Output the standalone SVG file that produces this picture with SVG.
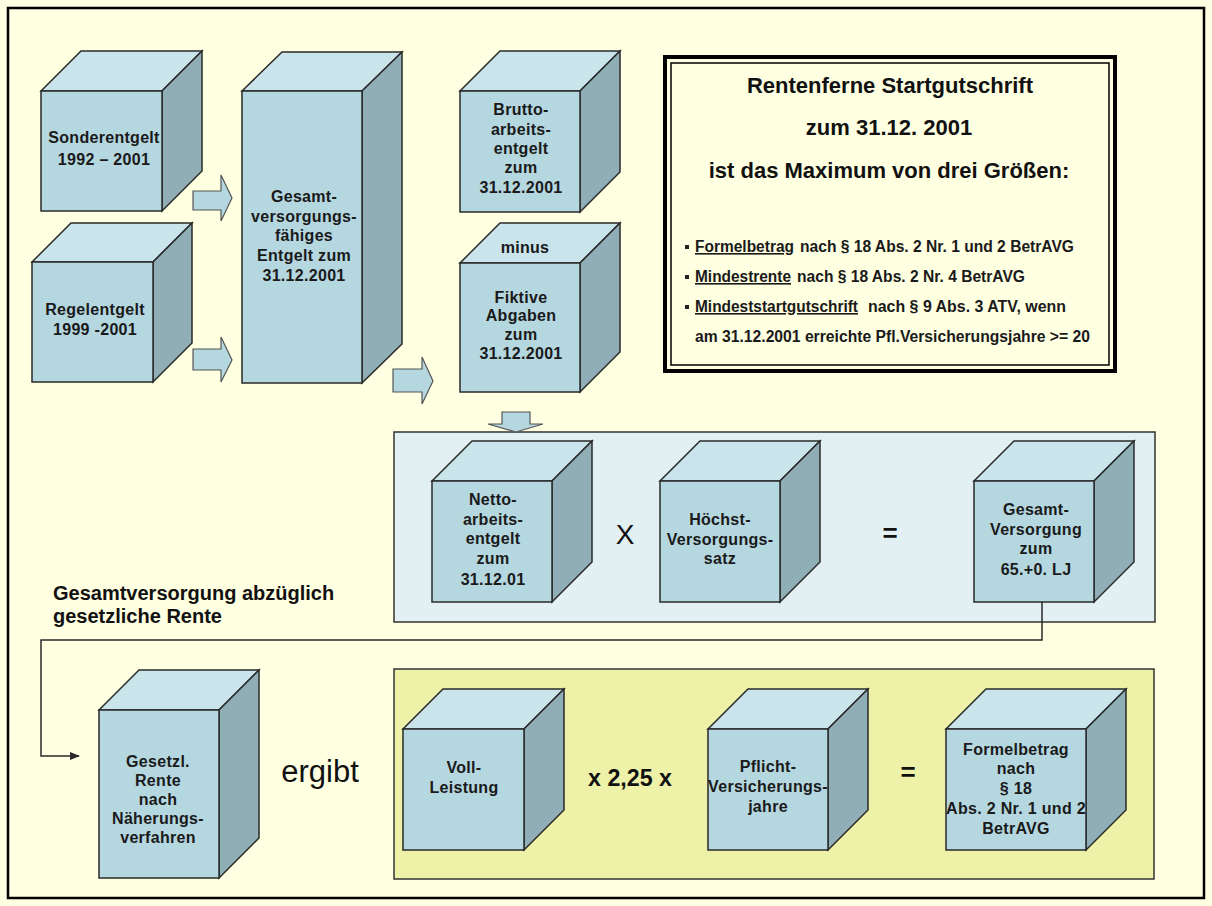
<svg xmlns="http://www.w3.org/2000/svg" width="1212" height="906" viewBox="0 0 1212 906">
<style>
.bg{fill:#FFFFE1}
.front{fill:#B5D7E0;stroke:#2a2a2a;stroke-width:1.5}
.top{fill:#C9E4EB;stroke:#2a2a2a;stroke-width:1.5}
.side{fill:#8FAEB5;stroke:#2a2a2a;stroke-width:1.5}
.barrow{fill:#B5D7E0;stroke:#555;stroke-width:1.2}
.t{font-family:"Liberation Sans",Arial,sans-serif;font-weight:bold;font-size:16px;letter-spacing:0.3px;fill:#1a1a1a;text-anchor:middle}
.tt{font-family:"Liberation Sans",Arial,sans-serif;font-weight:bold;font-size:22px;fill:#111;text-anchor:middle}
.bl{font-family:"Liberation Sans",Arial,sans-serif;font-weight:bold;font-size:16px;fill:#1a1a1a}
.op{font-family:"Liberation Sans",Arial,sans-serif;fill:#111;text-anchor:middle}
.lbl{font-family:"Liberation Sans",Arial,sans-serif;font-weight:bold;font-size:20px;fill:#111;text-anchor:start}
.conn{fill:none;stroke:#2a2a2a;stroke-width:1.5}
</style>
<defs>
<marker id="ah" markerWidth="10" markerHeight="8" refX="9" refY="4" orient="auto" markerUnits="userSpaceOnUse">
<path d="M0,0 L10,4 L0,8 z" fill="#2a2a2a"/>
</marker>
</defs>
<rect class="bg" x="0" y="0" width="1212" height="906"/>
<rect x="8" y="8" width="1196" height="890" fill="none" stroke="#000" stroke-width="2.5"/>

<!-- panels -->
<rect id="panel-mid" x="394" y="432" width="761" height="190" fill="#E2F0F3" stroke="#333" stroke-width="1.5"/>
<rect id="panel-bottom" x="394" y="669" width="760" height="210" fill="#EEF1A8" stroke="#333" stroke-width="1.5"/>

<!-- title box -->
<g id="title-box">
<rect x="665" y="57" width="450" height="314" fill="#FFFFE1" stroke="#000" stroke-width="4"/>
<rect x="671" y="63" width="438" height="302" fill="none" stroke="#000" stroke-width="1.5"/>
<text class="tt" x="890" y="93">Rentenferne Startgutschrift</text>
<text class="tt" x="889" y="135">zum 31.12. 2001</text>
<text class="tt" x="889" y="178">ist das Maximum von drei Größen:</text>
<rect x="685" y="245" width="4" height="4" fill="#222"/>
<text class="bl" y="252"><tspan x="695" text-decoration="underline" textLength="99" lengthAdjust="spacingAndGlyphs">Formelbetrag</tspan><tspan x="800" textLength="274" lengthAdjust="spacingAndGlyphs">nach § 18 Abs. 2 Nr. 1 und 2 BetrAVG</tspan></text>
<rect x="685" y="275" width="4" height="4" fill="#222"/>
<text class="bl" y="282"><tspan x="695" text-decoration="underline" textLength="96" lengthAdjust="spacingAndGlyphs">Mindestrente</tspan><tspan x="797" textLength="228" lengthAdjust="spacingAndGlyphs">nach § 18 Abs. 2 Nr. 4 BetrAVG</tspan></text>
<rect x="685" y="305" width="4" height="4" fill="#222"/>
<text class="bl" y="312"><tspan x="695" text-decoration="underline" textLength="163" lengthAdjust="spacingAndGlyphs">Mindeststartgutschrift</tspan><tspan x="868" textLength="198" lengthAdjust="spacingAndGlyphs">nach § 9 Abs. 3 ATV, wenn</tspan></text>
<text class="bl" x="695" y="342" textLength="395" lengthAdjust="spacingAndGlyphs">am 31.12.2001 erreichte Pfl.Versicherungsjahre  &gt;= 20</text>
</g>

<!-- connectors -->
<g id="connectors">
<path class="barrow" d="M193,191 L221,191 L221,175 L232,198 L221,221 L221,210 L193,210 z"/>
<path class="barrow" d="M193,349 L221,349 L221,337 L232,360 L221,382 L221,370 L193,370 z"/>
<path class="barrow" d="M393,369 L422,369 L422,357 L433,381 L422,404 L422,392 L393,392 z"/>
<path class="barrow" d="M502,412 L530,412 L530,424 L543,424 L516,432 L488,424 L502,424 z"/>
<path class="conn" d="M1042,602 L1042,640 L41,640 L41,756 L79,756" marker-end="url(#ah)"/>
</g>

<!-- cubes -->
<g id="sonderentgelt">
<path class="top" d="M41,91 L81,51 L202,51 L162,91 z"/>
<path class="side" d="M162,91 L202,51 L202,171 L162,211 z"/>
<rect class="front" x="41" y="91" width="121" height="120"/>
<text class="t" x="104" y="143">Sonderentgelt</text>
<text class="t" x="104" y="165">1992 – 2001</text>
</g>

<g id="regelentgelt">
<path class="top" d="M32,262 L71,223 L192,223 L153,262 z"/>
<path class="side" d="M153,262 L192,223 L192,343 L153,382 z"/>
<rect class="front" x="32" y="262" width="121" height="120"/>
<text class="t" x="95" y="315">Regelentgelt</text>
<text class="t" x="95" y="335">1999 -2001</text>
</g>

<g id="gesamtversorgungsfaehig">
<path class="top" d="M242,91 L282,52 L402,52 L362,91 z"/>
<path class="side" d="M362,91 L402,52 L402,344 L362,383 z"/>
<rect class="front" x="242" y="91" width="120" height="292"/>
<text class="t" x="304" y="202">Gesamt-</text>
<text class="t" x="304" y="222">versorgungs-</text>
<text class="t" x="304" y="241">fähiges</text>
<text class="t" x="304" y="261">Entgelt zum</text>
<text class="t" x="304" y="281">31.12.2001</text>
</g>

<g id="brutto">
<path class="top" d="M460,91 L500,51 L620,51 L580,91 z"/>
<path class="side" d="M580,91 L620,51 L620,172 L580,212 z"/>
<rect class="front" x="460" y="91" width="120" height="121"/>
<text class="t" x="521" y="115">Brutto-</text>
<text class="t" x="521" y="135">arbeits-</text>
<text class="t" x="521" y="154">entgelt</text>
<text class="t" x="521" y="173">zum</text>
<text class="t" x="521" y="193">31.12.2001</text>
</g>

<g id="fiktive">
<path class="top" d="M460,263 L500,223 L620,223 L580,263 z"/>
<path class="side" d="M580,263 L620,223 L620,352 L580,392 z"/>
<rect class="front" x="460" y="263" width="120" height="129"/>
<text class="t" x="525" y="253">minus</text>
<text class="t" x="521" y="303">Fiktive</text>
<text class="t" x="521" y="321">Abgaben</text>
<text class="t" x="521" y="340">zum</text>
<text class="t" x="521" y="359">31.12.2001</text>
</g>

<g id="netto">
<path class="top" d="M432,481 L472,441 L592,441 L552,481 z"/>
<path class="side" d="M552,481 L592,441 L592,562 L552,602 z"/>
<rect class="front" x="432" y="481" width="120" height="121"/>
<text class="t" x="493" y="505">Netto-</text>
<text class="t" x="493" y="525">arbeits-</text>
<text class="t" x="493" y="544">entgelt</text>
<text class="t" x="493" y="564">zum</text>
<text class="t" x="493" y="585">31.12.01</text>
</g>

<text class="op" x="625" y="544" font-size="28">X</text>

<g id="hoechst">
<path class="top" d="M660,481 L700,441 L820,441 L780,481 z"/>
<path class="side" d="M780,481 L820,441 L820,562 L780,602 z"/>
<rect class="front" x="660" y="481" width="120" height="121"/>
<text class="t" x="720" y="525">Höchst-</text>
<text class="t" x="720" y="545">Versorgungs-</text>
<text class="t" x="720" y="564">satz</text>
</g>

<text class="op" x="890" y="542" font-size="26" font-weight="bold">=</text>

<g id="gesamtversorgung">
<path class="top" d="M974,481 L1014,441 L1134,441 L1094,481 z"/>
<path class="side" d="M1094,481 L1134,441 L1134,562 L1094,602 z"/>
<rect class="front" x="974" y="481" width="120" height="121"/>
<text class="t" x="1036" y="515">Gesamt-</text>
<text class="t" x="1036" y="535">Versorgung</text>
<text class="t" x="1036" y="554">zum</text>
<text class="t" x="1036" y="575">65.+0. LJ</text>
</g>

<text class="lbl" x="53" y="600">Gesamtversorgung abzüglich</text>
<text class="lbl" x="53" y="623">gesetzliche Rente</text>

<g id="gesetzl-rente">
<path class="top" d="M99,710 L139,670 L259,670 L219,710 z"/>
<path class="side" d="M219,710 L259,670 L259,838 L219,878 z"/>
<rect class="front" x="99" y="710" width="120" height="168"/>
<text class="t" x="158" y="767">Gesetzl.</text>
<text class="t" x="158" y="786">Rente</text>
<text class="t" x="158" y="805">nach</text>
<text class="t" x="158" y="824">Näherungs-</text>
<text class="t" x="158" y="843">verfahren</text>
</g>

<text class="op" x="320" y="782" font-size="31">ergibt</text>

<g id="voll-leistung">
<path class="top" d="M403,729 L443,689 L564,689 L524,729 z"/>
<path class="side" d="M524,729 L564,689 L564,810 L524,850 z"/>
<rect class="front" x="403" y="729" width="121" height="121"/>
<text class="t" x="464" y="773">Voll-</text>
<text class="t" x="464" y="793">Leistung</text>
</g>

<text class="op" x="630" y="786" font-size="24" font-weight="bold" textLength="84" lengthAdjust="spacingAndGlyphs">x 2,25 x</text>

<g id="pflicht">
<path class="top" d="M708,729 L748,689 L868,689 L828,729 z"/>
<path class="side" d="M828,729 L868,689 L868,810 L828,850 z"/>
<rect class="front" x="708" y="729" width="120" height="121"/>
<text class="t" x="768" y="772">Pflicht-</text>
<text class="t" x="768" y="792">Versicherungs-</text>
<text class="t" x="768" y="812">jahre</text>
</g>

<text class="op" x="908" y="781" font-size="26" font-weight="bold">=</text>

<g id="formelbetrag">
<path class="top" d="M946,729 L986,689 L1126,689 L1086,729 z"/>
<path class="side" d="M1086,729 L1126,689 L1126,810 L1086,850 z"/>
<rect class="front" x="946" y="729" width="140" height="121"/>
<text class="t" x="1016" y="755">Formelbetrag</text>
<text class="t" x="1016" y="774">nach</text>
<text class="t" x="1016" y="794">§ 18</text>
<text class="t" x="1016" y="814" textLength="140" lengthAdjust="spacingAndGlyphs">Abs. 2 Nr. 1 und 2</text>
<text class="t" x="1016" y="834">BetrAVG</text>
</g>
</svg>
